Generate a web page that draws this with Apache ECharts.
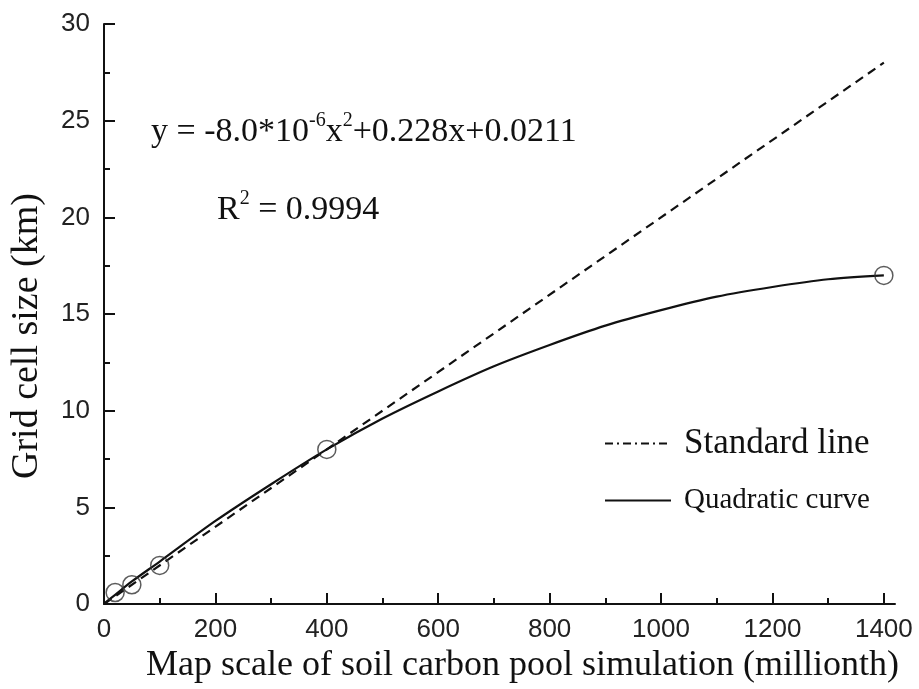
<!DOCTYPE html>
<html>
<head>
<meta charset="utf-8">
<script src="https://cdn.jsdelivr.net/npm/echarts@6/dist/echarts.min.js"></script>
<style>html,body{margin:0;padding:0;background:#fff;}#c{width:919px;height:689px;}</style>
</head>
<body>
<div id="c"></div>
<script>
// ---- data ----
const xMajorTicks = [0, 200, 400, 600, 800, 1000, 1200, 1400];
const xMinorTicks = [100, 300, 500, 700, 900, 1100, 1300];
const standardX = [0, 1400];
const standardY = [0, 28];
const curveX = [0, 20, 50, 100, 200, 300, 400, 500, 600, 700, 800, 900, 1000, 1100, 1200, 1300, 1400];
const curveY = [0.02, 0.48, 1.17, 2.2, 4.3, 6.2, 8.0, 9.6, 11.0, 12.3, 13.4, 14.4, 15.2, 15.9, 16.4, 16.8, 17.0];
const sampleX = [20, 50, 100, 400, 1400];
const sampleY = [0.6, 1.0, 2.0, 8.0, 17.0];
const seriesNames = ['Standard line', 'Quadratic curve'];
const xTitle = 'Map scale of soil carbon pool simulation (millionth)';
const yTitle = 'Grid cell size (km)';

const zip = (a, b) => a.map((v, i) => [v, b[i]]);
const ink = '#111';
const serif = '"Liberation Serif", "Times New Roman", serif';
const sans = '"Liberation Sans", Arial, sans-serif';

const chart = echarts.init(document.getElementById('c'), null, {renderer: 'canvas'});
chart.setOption({
  backgroundColor: '#fff',
  animation: false,
  grid: {left: 100, right: 24, top: 24, bottom: 82, containLabel: false},
  xAxis: [{
    type: 'value', min: 0, max: 1420, position: 'bottom',
    name: xTitle, nameLocation: 'middle', nameGap: 33,
    nameTextStyle: {fontFamily: serif, fontSize: 36, color: ink, padding: [0, 0, 0, 46]},
    axisLine: {show: true, onZero: false, lineStyle: {color: ink, width: 2}},
    axisTick: {show: true, inside: true, length: 11, customValues: xMajorTicks, lineStyle: {color: ink, width: 2}},
    axisLabel: {show: true, customValues: xMajorTicks, margin: 13, fontFamily: sans, fontSize: 26, color: '#222',
      formatter: v => String(v)},
    splitLine: {show: false}
  }, {
    type: 'value', min: 0, max: 1420, position: 'bottom',
    axisLine: {show: false, onZero: false},
    axisTick: {show: true, inside: true, length: 6, customValues: xMinorTicks, lineStyle: {color: ink, width: 2}},
    axisLabel: {show: false},
    splitLine: {show: false}
  }],
  yAxis: {
    type: 'value', min: 0, max: 30, interval: 5,
    name: yTitle, nameLocation: 'middle', nameGap: 58,
    nameTextStyle: {fontFamily: serif, fontSize: 38, color: ink, padding: [0, 44, 0, 0]},
    axisLine: {show: true, onZero: false, lineStyle: {color: ink, width: 2}},
    axisTick: {show: true, inside: true, length: 11, lineStyle: {color: ink, width: 2}},
    minorTick: {show: true, splitNumber: 2, length: 6, lineStyle: {color: ink, width: 2}},
    axisLabel: {margin: 14, fontFamily: sans, fontSize: 26, color: '#222'},
    splitLine: {show: false}
  },
  legend: [{
    orient: 'vertical', left: 599, top: 421, itemWidth: 66, itemHeight: 14,
    data: [{name: seriesNames[0], itemStyle: {opacity: 0}, lineStyle: {type: [8, 4, 2, 4], width: 2, color: ink}}],
    textStyle: {fontFamily: serif, fontSize: 35, color: ink, padding: [0, 0, 0, 8]},
    selectedMode: false
  }, {
    orient: 'vertical', left: 599, top: 481, itemWidth: 66, itemHeight: 14,
    data: [{name: seriesNames[1], itemStyle: {opacity: 0}, lineStyle: {width: 2, color: ink}}],
    textStyle: {fontFamily: serif, fontSize: 29, color: ink, padding: [0, 0, 0, 8]},
    selectedMode: false
  }],
  graphic: [{
    type: 'text', left: 151, top: 111,
    style: {
      text: '{n|y = -8.0*10}{s|-6}{n|x}{s|2}{n|+0.228x+0.0211}',
      rich: {
        n: {fontFamily: serif, fontSize: 34, fill: ink, lineHeight: 38, verticalAlign: 'bottom'},
        s: {fontFamily: serif, fontSize: 20, fill: ink, lineHeight: 30, verticalAlign: 'top'}
      }
    }
  }, {
    type: 'text', left: 217, top: 189,
    style: {
      text: '{n|R}{s|2}{n| = 0.9994}',
      rich: {
        n: {fontFamily: serif, fontSize: 34, fill: ink, lineHeight: 38, verticalAlign: 'bottom'},
        s: {fontFamily: serif, fontSize: 20, fill: ink, lineHeight: 30, verticalAlign: 'top'}
      }
    }
  }],
  series: [{
    name: seriesNames[0], type: 'line', xAxisIndex: 0,
    data: zip(standardX, standardY), symbol: 'none',
    lineStyle: {color: ink, width: 2.2, type: [9, 6]}, itemStyle: {color: ink}, z: 2
  }, {
    name: seriesNames[1], type: 'line', xAxisIndex: 0,
    data: zip(curveX, curveY), symbol: 'none', smooth: 0.3,
    lineStyle: {color: ink, width: 2.2}, itemStyle: {color: ink}, z: 3
  }, {
    name: 'Samples', type: 'scatter', xAxisIndex: 0,
    data: zip(sampleX, sampleY), symbol: 'circle', symbolSize: 18,
    itemStyle: {color: 'rgba(0,0,0,0)', borderColor: '#333', borderWidth: 1.5}, z: 4
  }]
});
</script>
</body>
</html>
